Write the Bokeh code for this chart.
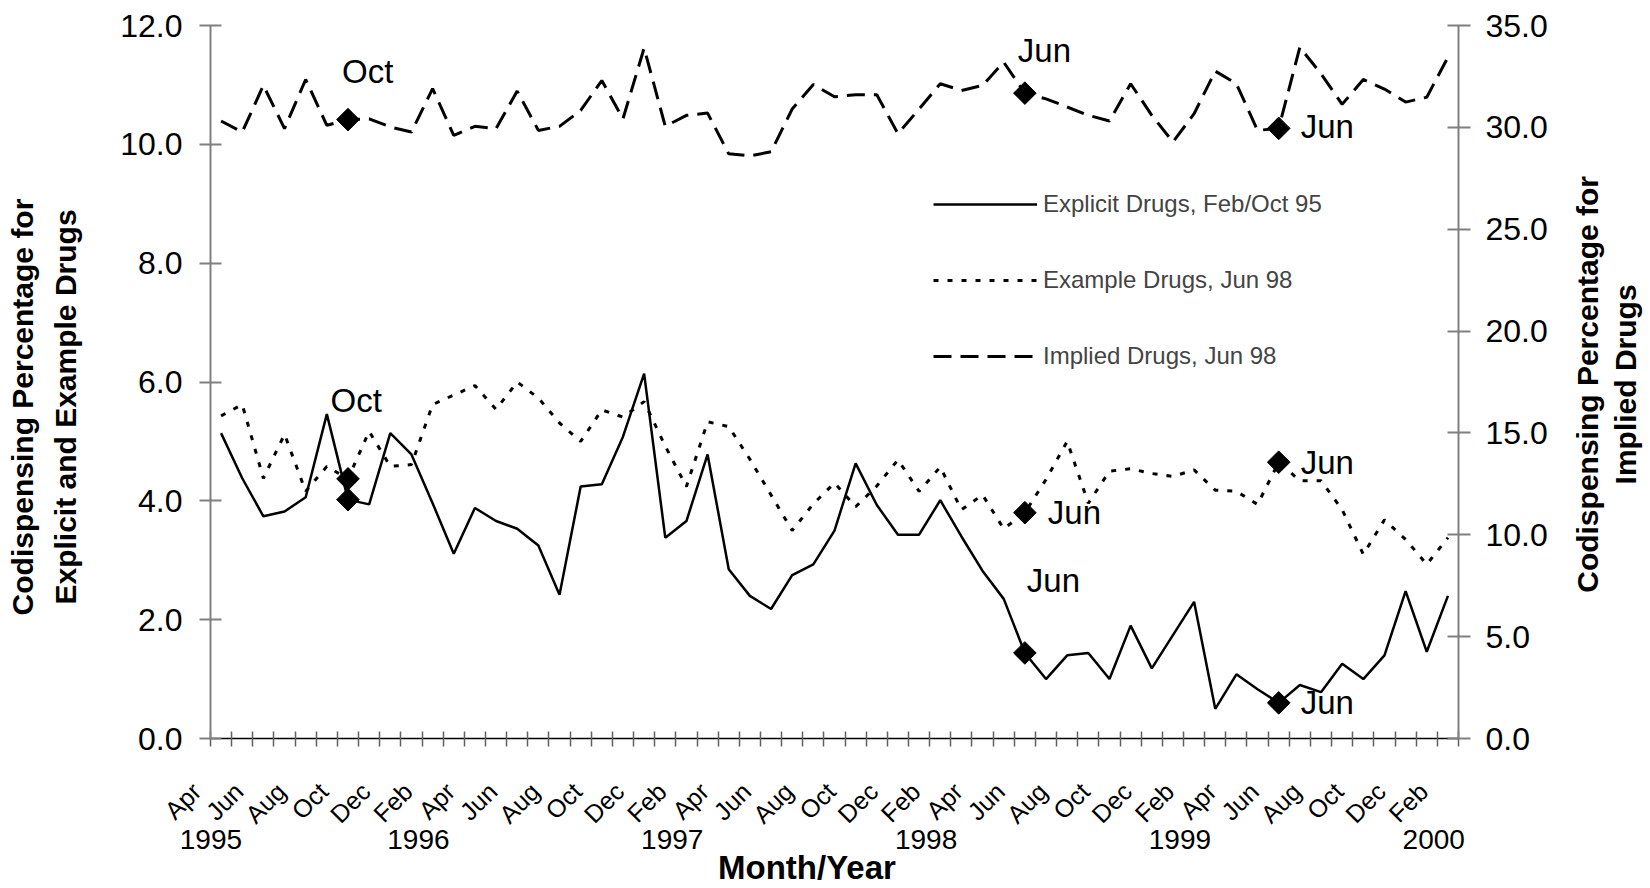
from math import pi
from bokeh.plotting import figure
from bokeh.layouts import row
from bokeh.models import (Range1d, LinearAxis, FixedTicker, NumeralTickFormatter,
                          Legend, LegendItem, Label)
from bokeh.embed import file_html
from bokeh.resources import INLINE

# ---------------- data ----------------
categories = [
    "Apr 1995", "May 1995", "Jun 1995", "Jul 1995", "Aug 1995", "Sep 1995", "Oct 1995", "Nov 1995", "Dec 1995",
    "Jan 1996", "Feb 1996", "Mar 1996", "Apr 1996", "May 1996", "Jun 1996", "Jul 1996", "Aug 1996", "Sep 1996",
    "Oct 1996", "Nov 1996", "Dec 1996",
    "Jan 1997", "Feb 1997", "Mar 1997", "Apr 1997", "May 1997", "Jun 1997", "Jul 1997", "Aug 1997", "Sep 1997",
    "Oct 1997", "Nov 1997", "Dec 1997",
    "Jan 1998", "Feb 1998", "Mar 1998", "Apr 1998", "May 1998", "Jun 1998", "Jul 1998", "Aug 1998", "Sep 1998",
    "Oct 1998", "Nov 1998", "Dec 1998",
    "Jan 1999", "Feb 1999", "Mar 1999", "Apr 1999", "May 1999", "Jun 1999", "Jul 1999", "Aug 1999", "Sep 1999",
    "Oct 1999", "Nov 1999", "Dec 1999",
    "Jan 2000", "Feb 2000",
]

# Explicit drugs (left axis, %)
explicit = [5.14, 4.38, 3.74, 3.82, 4.06, 5.46, 4.02, 3.94, 5.14, 4.78, 3.96, 3.11, 3.88, 3.66, 3.53, 3.25,
            2.42, 4.24, 4.28, 5.08, 6.14, 3.38, 3.66,
            4.78, 2.85, 2.40, 2.18, 2.75, 2.93, 3.50, 4.63, 3.93,
            3.43, 3.43, 4.01, 3.40, 2.82, 2.35, 1.44, 1.00, 1.40, 1.44, 1.00, 1.90, 1.18, 1.74, 2.30, 0.50,
            1.08, 0.83, 0.60, 0.90, 0.78, 1.26, 1.00, 1.40, 2.48, 1.46, 2.40]

# Example drugs (left axis, %)
example = [5.43, 5.62, 4.38, 5.12, 4.16, 4.58, 4.37, 5.17, 4.58, 4.61, 5.62, 5.78, 5.94, 5.54, 6.00, 5.73,
           5.31, 5.00, 5.53, 5.41, 5.67, 4.92, 4.24,
           5.33, 5.25, 4.70, 4.10, 3.50, 3.95, 4.30, 3.90, 4.25,
           4.69, 4.16, 4.57, 3.85, 4.10, 3.53, 3.80, 4.36, 5.00, 3.96, 4.50, 4.54, 4.46, 4.41, 4.52, 4.18,
           4.16, 3.94, 4.65, 4.34, 4.34, 3.85, 3.10, 3.68, 3.35, 2.93, 3.38]

# Implied drugs (right axis, %)
implied = [30.31, 29.77, 32.06, 29.94, 32.35, 30.10, 30.38, 30.42, 30.02, 29.77, 31.90, 29.61, 30.05, 29.94,
           31.78, 29.85, 30.05, 30.83, 32.30, 30.42, 33.89, 30.05, 30.59,
           30.70, 28.70, 28.60, 28.80, 30.90, 32.10, 31.50, 31.60, 31.60,
           29.69, 30.90, 32.14, 31.81, 32.06, 33.20, 31.68, 31.40, 31.00, 30.59, 30.31, 32.14, 30.59, 29.28,
           30.67, 32.76, 32.14, 29.85, 29.95, 33.93, 32.63, 31.13, 32.35, 31.88, 31.24, 31.48, 33.44]

marker_months = ["Oct 1995", "Jun 1998", "Jun 1999"]

series_names = ["Explicit Drugs, Feb/Oct 95", "Example Drugs, Jun 98", "Implied Drugs, Jun 98"]

left_ticks = [0, 2, 4, 6, 8, 10, 12]
right_ticks = [0, 5, 10, 15, 20, 25, 30, 35]

year_labels = ["1995", "1996", "1997", "1998", "1999", "2000"]
year_anchor = ["Apr 1995", "Jan 1996", "Jan 1997", "Jan 1998", "Jan 1999", "Jan 2000"]

x_title = "Month/Year"
left_title_lines = ["Codispensing Percentage for", "Explicit and Example Drugs"]
right_title_lines = ["Codispensing Percentage for", "Implied Drugs"]

# annotation texts: (series, month, text)
ann_series = ["implied", "implied", "implied", "example", "example", "example", "explicit", "explicit"]
ann_month = ["Oct 1995", "Jun 1998", "Jun 1999", "Oct 1995", "Jun 1998", "Jun 1999", "Jun 1998", "Jun 1999"]
ann_text = ["Oct", "Jun", "Jun", "Oct", "Jun", "Jun", "Jun", "Jun"]

# ---------------- figure ----------------
FONT = "Liberation Sans"
NB = "\u00a0"
n = len(categories)
x = [i + 0.5 for i in range(n)]

W_MAIN, W_SIDE, H = 1575, 75, 888

p = figure(width=W_MAIN, height=H, x_range=Range1d(0, n), y_range=Range1d(0, 12),
           output_backend="svg", toolbar_location=None,
           min_border_left=210, min_border_right=W_MAIN - 1458, min_border_top=25, min_border_bottom=149)
p.outline_line_color = None
p.xgrid.visible = False
p.ygrid.visible = False
p.background_fill_color = "white"
p.border_fill_color = "white"
p.extra_y_ranges = {"right": Range1d(0, 35)}

# x axis: month labels every second category, tick marks between categories
mlab_idx = list(range(0, n, 2))
xa = p.xaxis[0]
xa.ticker = FixedTicker(ticks=[x[i] for i in mlab_idx], minor_ticks=list(range(0, n + 1)))
xa.major_label_overrides = {x[i]: categories[i].split()[0] + NB * 5 for i in mlab_idx}
xa.major_label_orientation = pi / 4
xa.axis_line_color = "black"
xa.axis_line_width = 1.5
xa.major_tick_line_color = None
xa.major_tick_in = 0
xa.major_tick_out = 0
xa.minor_tick_in = 7
xa.minor_tick_out = 8
xa.minor_tick_line_color = "#606060"
xa.minor_tick_line_width = 1.5
xa.major_label_text_font = FONT
xa.major_label_text_font_size = "25px"
xa.major_label_text_color = "black"
xa.major_label_standoff = 16

# second x axis: years + title
yx = [x[categories.index(a)] + 0.33 if k else 0.02 for k, a in enumerate(year_anchor)]
ya2 = LinearAxis(ticker=FixedTicker(ticks=yx),
                 major_label_overrides={yx[k]: year_labels[k] for k in range(len(yx))})
ya2.axis_line_color = None
ya2.major_tick_line_color = None
ya2.major_tick_in = 0
ya2.major_tick_out = 0
ya2.minor_tick_line_color = None
ya2.major_label_text_font = FONT
ya2.major_label_text_font_size = "28px"
ya2.major_label_text_color = "black"
ya2.major_label_standoff = -12
ya2.axis_label = x_title + NB * 6
ya2.axis_label_text_font = FONT
ya2.axis_label_text_font_size = "33px"
ya2.axis_label_text_font_style = "bold"
ya2.axis_label_text_color = "black"
ya2.axis_label_standoff = -3
p.add_layout(ya2, "below")

# left axis
ya = p.yaxis[0]
ya.ticker = FixedTicker(ticks=left_ticks)
ya.formatter = NumeralTickFormatter(format="0.0")
ya.axis_line_color = "#808080"
ya.axis_line_width = 2
ya.major_tick_line_color = "#808080"
ya.major_tick_line_width = 2
ya.major_tick_in = 11
ya.major_tick_out = 11
ya.minor_tick_line_color = None
ya.major_label_text_font = FONT
ya.major_label_text_font_size = "32px"
ya.major_label_text_color = "black"
ya.major_label_standoff = 17
ya.axis_label = "\n".join(t + NB * 6 for t in left_title_lines)
ya.axis_label_text_font = FONT
ya.axis_label_text_font_size = "30px"
ya.axis_label_text_font_style = "bold"
ya.axis_label_text_color = "black"
ya.axis_label_text_line_height = 1.3
ya.axis_label_standoff = 35

# right axis
ra = LinearAxis(y_range_name="right", ticker=FixedTicker(ticks=right_ticks),
                formatter=NumeralTickFormatter(format="0.0"))
ra.axis_line_color = "#808080"
ra.axis_line_width = 2
ra.major_tick_line_color = "#808080"
ra.major_tick_line_width = 2
ra.major_tick_in = 11
ra.major_tick_out = 12
ra.minor_tick_line_color = None
ra.major_label_text_font = FONT
ra.major_label_text_font_size = "32px"
ra.major_label_text_color = "black"
ra.major_label_standoff = 15
p.add_layout(ra, "right")

# lines
r_exp = p.line(x, explicit, line_color="black", line_width=2.5)
r_ex = p.line(x, example, line_color="black", line_width=3, line_dash="5 9")
r_imp = p.line(x, implied, line_color="black", line_width=3, line_dash="18 9", y_range_name="right")

# diamonds
mi = [categories.index(m) for m in marker_months]
mx = [x[i] for i in mi]
p.scatter(mx, [explicit[i] for i in mi], marker="square", angle=pi / 4, size=16, color="black")
p.scatter(mx, [example[i] for i in mi], marker="square", angle=pi / 4, size=16, color="black")
p.scatter(mx, [implied[i] for i in mi], marker="square", angle=pi / 4, size=16, color="black",
          y_range_name="right")

# annotation labels next to diamonds (offsets in screen px)
series_vals = {"explicit": explicit, "example": example, "implied": implied}
ann_offsets = [(-6, 48), (-7, 43), (22, 2), (-17.5, 78), (23, 0), (22, 0), (2, 72), (22, 0)]
for s, m, t, (dx, dy) in zip(ann_series, ann_month, ann_text, ann_offsets):
    i = categories.index(m)
    kw = dict(y_range_name="right") if s == "implied" else {}
    p.add_layout(Label(x=x[i], y=series_vals[s][i], text=t, x_offset=dx, y_offset=dy,
                       text_align="left", text_baseline="middle", text_font=FONT,
                       text_font_size="33px", text_color="black", **kw))

# legend
legend = Legend(items=[LegendItem(label=series_names[0], renderers=[r_exp]),
                       LegendItem(label=series_names[1], renderers=[r_ex]),
                       LegendItem(label=series_names[2], renderers=[r_imp])],
                location=(723, 367), orientation="vertical",
                label_text_font=FONT, label_text_font_size="24px",
                glyph_width=104, glyph_height=30, label_height=30, spacing=46,
                padding=0, margin=0, border_line_color=None, background_fill_alpha=0,
                label_standoff=6)
p.add_layout(legend)

# right-hand title strip (text reading bottom to top, like the left title)
q = figure(width=W_SIDE, height=H, x_range=Range1d(0, W_SIDE), y_range=Range1d(0, H),
           output_backend="svg", toolbar_location=None, min_border=0,
           x_axis_location=None, y_axis_location=None)
q.outline_line_color = None
q.xgrid.visible = False
q.ygrid.visible = False
q.background_fill_color = "white"
q.border_fill_color = "white"
for k, t in enumerate(right_title_lines):
    q.add_layout(Label(x=12 + 38 * k, y=441, text=t, angle=pi / 2,
                       text_align="center", text_baseline="middle", text_font=FONT,
                       text_font_size="30px", text_font_style="bold", text_color="black"))

open("out.html", "w").write(file_html(row(p, q), INLINE))
